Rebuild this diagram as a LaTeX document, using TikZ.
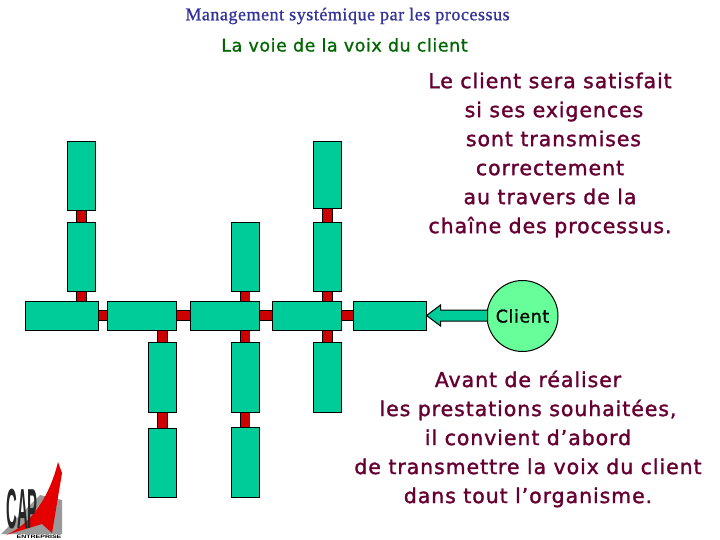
\documentclass[tikz,border=0pt]{standalone}
\usepackage{fontspec}
\setmainfont{DejaVu Sans}
\newfontfamily\titlefont[LetterSpace=3,FakeBold=1]{Liberation Serif}
\newfontfamily\subfont[LetterSpace=3.2,FakeBold=1]{DejaVu Sans}
\newfontfamily\bigfont[LetterSpace=4.5,FakeBold=1.5]{DejaVu Sans}
\newfontfamily\capfont{Liberation Sans}
\definecolor{boxgreen}{HTML}{00CC99}
\definecolor{clientgreen}{HTML}{66FF99}
\definecolor{linkred}{HTML}{CC0000}
\definecolor{titleblue}{HTML}{333399}
\definecolor{subgreen}{HTML}{006600}
\definecolor{textmaroon}{HTML}{660033}
\definecolor{logogray}{HTML}{999999}
\tikzset{
  procbox/.style={draw=black,fill=boxgreen,line width=1pt,inner sep=0pt,
    minimum width=#1,minimum height=29pt},
  colbox/.style={draw=black,fill=boxgreen,line width=1pt,inner sep=0pt,
    minimum width=28pt,minimum height=#1},
  link/.style={line width=0.8pt,draw=black,double=linkred,double distance=9pt},
  bigtext/.style={text=textmaroon,font=\bigfont\fontsize{20.5}{29}\selectfont,align=center}
}
\begin{document}
\begin{tikzpicture}[x=1pt,y=-1pt]
\useasboundingbox (0,0) rectangle (720,540);
% main chain
\node[procbox=73pt] (chainA) at (61.5,315.5) {};
\node[procbox=69pt] (chainB) at (141.5,315.5) {};
\node[procbox=69pt] (chainC) at (224.5,315.5) {};
\node[procbox=69pt] (chainD) at (306.5,315.5) {};
\node[procbox=73pt] (chainE) at (389.5,315.5) {};
% columns
\node[colbox=69pt] (colAa) at (81.5,176.5) {};
\node[colbox=68pt] (colAb) at (81.5,257) {};
\node[colbox=70pt] (colBa) at (162.5,377) {};
\node[colbox=69pt] (colBb) at (162.5,462.5) {};
\node[colbox=68pt] (colCa) at (245,257) {};
\node[colbox=70pt] (colCb) at (245,377) {};
\node[colbox=70pt] (colCc) at (245,462) {};
\node[colbox=67pt] (colDa) at (327.5,175.5) {};
\node[colbox=68pt] (colDb) at (327.5,257) {};
\node[colbox=70pt] (colDc) at (327.5,377) {};
% links
\draw[link] (colAa) -- (colAb);
\draw[link] (colAb.south) -- (colAb.south |- chainA.north);
\draw[link] (chainA) -- (chainB);
\draw[link] (chainB) -- (chainC);
\draw[link] (chainC) -- (chainD);
\draw[link] (chainD) -- (chainE);
\draw[link] (colBa.north) -- (colBa.north |- chainB.south);
\draw[link] (colBa) -- (colBb);
\draw[link] (colCa.south) -- (colCa.south |- chainC.north);
\draw[link] (colCb.north) -- (colCb.north |- chainC.south);
\draw[link] (colCb) -- (colCc);
\draw[link] (colDa) -- (colDb);
\draw[link] (colDb.south) -- (colDb.south |- chainD.north);
\draw[link] (colDc.north) -- (colDc.north |- chainD.south);
% client
\node[circle,draw=black,fill=clientgreen,line width=1pt,minimum size=71pt,inner sep=0pt,
  font=\subfont\fontsize{17.5}{18}\selectfont] (client) at (522.5,316) {Client};
\draw[fill=boxgreen,line width=1pt] (chainE.east) -- ++(14,-10.5) -- ++(0,5) -- ++(47,0)
  -- ++(0,11) -- ++(-47,0) -- ++(0,5) -- cycle;
% texts
\node[text=titleblue,font=\titlefont\fontsize{18}{18}\selectfont] (title) at (347.5,16) {Management systémique par les processus};
\node[text=subgreen,font=\subfont\fontsize{17.5}{18}\selectfont] (subtitle) at (344.5,45) {La voie de la voix du client};
\node[bigtext] (upper) at (550,155) {Le client sera satisfait\\\hspace*{8pt}si ses exigences\\\hspace*{7pt}sont transmises\\correctement\\au travers de la\\chaîne des processus.};
\node[bigtext] (lower) at (528,439) {Avant de réaliser\\les prestations souhaitées,\\il convient d’abord\\de transmettre la voix du client\\dans tout l’organisme.};
% logo
\fill[logogray] (1,534) -- (40,495) -- (62,500) -- (62,534) -- cycle;
\fill[red!90!black] (6,535) .. controls (32,524) and (50,495) .. (58,462) -- (62,473) -- (52,533) -- (42,524) -- cycle;
\node[text=black!85,font=\capfont\bfseries\fontsize{24}{24}\selectfont,xscale=0.62,yscale=2.35,inner sep=0pt] (logo) at (22,509) {CAP};
\node[font=\capfont\bfseries\fontsize{7}{7}\selectfont,yscale=0.7,inner sep=0pt] (logotext) at (39,537) {ENTREPRISE};
\end{tikzpicture}
\end{document}
